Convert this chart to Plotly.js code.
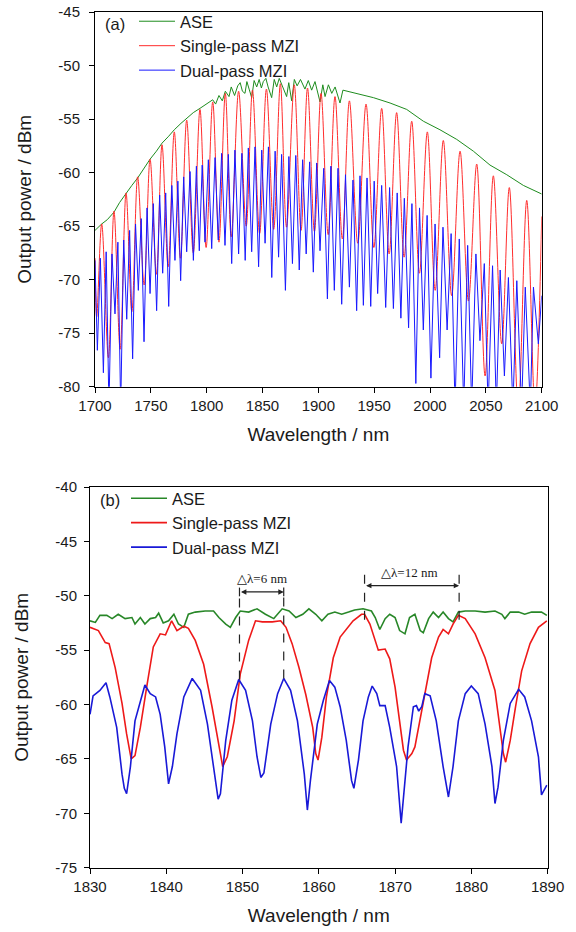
<!DOCTYPE html>
<html>
<head>
<meta charset="utf-8">
<script src="https://cdn.plot.ly/plotly-3.0.1.min.js"></script>
<style>html,body{margin:0;padding:0;background:#fff;}#chart{width:576px;height:932px;}</style>
</head>
<body>
<div id="chart"></div>
<script>
// ---------- Panel (a) data ----------
const aAseX = [1700,1706,1711,1717,1722,1727.8,1733,1738.2,1744,1749.3,1755,1760,1766,1771,1777,1782.1,1788,1794,1800,1805.4,1808,1811,1814,1816.7,1820,1822,1825,1827.8,
  1830,1832,1834.3,1836,1838,1840.3,1842.5,1844.8,1847,1849,1850.7,1853,1855,1858.2,1860.5,1862.7,1865,1868,1871.6,1873.5,1876.1,1878.5,1881,1884,1888,1891,1894,1897,1901.5,1904,1906,1909,1912,1915,1919.4,1922,
  1928,1934.3,1949.3,1964.2,1979.1,1994,2008.9,2023.9,2038.8,2053.7,2068.7,2083.6,2100];
const aAseY = [-65.4,-64.8,-64.4,-63.7,-62.8,-61.9,-61.2,-60.5,-59.6,-58.75,-58.0,-57.25,-56.6,-56.0,-55.4,-54.9,-54.4,-54.0,-53.6,-53.2,-53.6,-52.8,-53.3,-52.4,-52.9,-52.0,-52.8,-51.9,
  -51.6,-52.4,-52.6,-51.5,-52.2,-53.0,-51.4,-52.0,-51.3,-52.1,-51.5,-51.2,-52.0,-53.0,-51.3,-52.0,-51.2,-51.9,-52.9,-51.6,-53.3,-51.3,-51.9,-51.3,-52.2,-51.4,-52.3,-51.5,-53.4,-51.8,-52.9,-51.8,-52.6,-52.0,-53.5,-52.3,
  -52.45,-52.6,-53.0,-53.5,-54.1,-55.2,-56.0,-56.9,-58.0,-59.3,-60.2,-61.2,-62.0];

const aSpX = [1700,1701.5,1706,1712,1717,1722.5,1727.8,1733,1738.2,1744,1749.3,1755,1760,1765.5,1771,1776.5,1782.1,1788,1794,1799.5,1805.4,1811,1816.7,1822,1828.6,
  1835.4,1841,1847.4,1853.5,1860,1866,1871.5,1878.4,1884.5,1890.3,1896.5,1902.4,1908.8,1914.9,1921.5,1927.8,1935.3,1942.7,1949.7,1956.7,1963.4,1970.1,1976.8,1983.6,1990.5,1997.6,
  2004.6,2011.9,2019.4,2026.9,2034.4,2041.8,2049.3,2056.7,2064.2,2071,2079,2086.6,2094,2100];
const aSpY = [-68.0,-73.5,-64.8,-77.3,-63.6,-76.5,-61.9,-73.0,-60.4,-70.5,-58.75,-69.5,-57.4,-68.8,-56.2,-68.0,-55.1,-67.5,-54.1,-67.0,-53.4,-66.5,-52.6,-66.0,-52.4,
  -65.0,-52.3,-65.7,-52.2,-65.3,-51.7,-65.1,-51.8,-65.4,-52.1,-65.5,-52.6,-65.8,-52.9,-66.2,-53.3,-66.6,-53.6,-67.0,-54.0,-67.6,-54.4,-67.9,-55.2,-69.4,-56.2,
  -71.0,-57.0,-71.5,-58.0,-72.0,-59.2,-79.0,-60.3,-76.0,-61.4,-82.0,-62.6,-82.0,-64.1];

const aDpX = [1700,1702.1,1704.8,1707.5,1710,1712.5,1715.2,1717.9,1720.5,1723,1725.7,1728.4,1731,1733.7,1736.3,1738.8,1741.4,1743.9,1746.6,1749.3,1752.2,1755.2,1757.9,1760.6,1763.3,1766,1768.8,1771.6,1774.2,1776.7,1779.4,1782.1,1785.1,1788.1,1790.8,1793.4,1796,1798.5,1801.5,1804.5,1807.5,1810.4,1813.4,1816.4,1819.4,1822.4,1825.3,1828.6,
  1831.5,1834.5,1837.3,1840.3,1843.3,1846.5,1849.3,1852.3,1855.3,1858.3,1861.3,1864.4,1867.1,1870.5,1873.6,1876.8,1879.8,1882.9,1885.9,1889.1,1892.2,1895.5,1898.5,1901.5,1904.8,1908.1,1911.2,1914.3,1917.6,1920.9,1924.3,1927.8,1931,1934.3,1937.3,1940.3,1943.6,1946.9,1950,1953.1,1956.7,1960.3,1963.8,1967.2,
  1970.6,1973.9,1977,1980.8,1983.8,1987.3,1990.6,1994,1997.4,2000.8,2004.5,2008.6,2011.6,2015.3,2018.9,2022.4,2026.2,2030.2,2033.7,2037.3,2041.1,2044.7,2048.6,2052,2056,2059.4,2062.8,2066.6,2070.2,2074.2,2077.7,2082,2085.3,2089.8,2092.6,2097,2100];
const aDpY = [-68.2,-76.6,-68.0,-78.7,-67.4,-82,-67.6,-73.2,-66.5,-82,-66.3,-73.7,-65.4,-77.4,-64.8,-71.0,-64.3,-75.8,-63.3,-71.3,-62.9,-72.9,-62.1,-69.4,-61.9,-72.5,-61.2,-68.2,-60.8,-70.1,-60.4,-67.4,-59.9,-68.2,-59.4,-67.3,-59.3,-66.5,-58.8,-67.1,-58.6,-66.3,-58.2,-66.8,-58.3,-68.5,-57.9,-67.6,
  -58.2,-68.2,-57.7,-67.4,-57.6,-68.8,-57.9,-66.6,-57.6,-69.8,-58.0,-67.9,-58.3,-71.0,-58.5,-68.5,-58.4,-69.1,-58.8,-67.6,-59.0,-69.3,-59.1,-67.3,-59.6,-71.8,-59.4,-71.0,-59.6,-72.3,-60.2,-70.7,-60.7,-72.9,-60.3,-72.4,-60.5,-72.5,-60.8,-71.3,-61.2,-72.6,-61.4,-72.7,
  -61.9,-73.6,-62.4,-74.5,-62.9,-79.7,-63.3,-74.7,-64.0,-79.2,-64.8,-77.3,-65.1,-74.7,-65.7,-82,-66.2,-82,-66.8,-82,-67.6,-75.7,-68.5,-82,-68.7,-82,-69.1,-79.0,-69.8,-82,-70.1,-82,-70.7,-82,-70.7,-76.0,-71.5];

// ---------- Panel (b) data ----------
const bAseX = [1830,1830.7,1831.3,1832.2,1832.9,1833.7,1834.6,1835.5,1835.9,1836.6,1837.2,1837.9,1838.6,1839,1839.6,1840.3,1841,1841.6,1842.3,1842.9,1843.8,1845.1,1846.2,1846.9,1847.8,1848.4,1849.1,1849.7,1850.8,1851.9,1853,1854.1,1855.2,1856.1,1857,1857.9,1858.7,1859.6,
  1860.4,1861.2,1862.1,1863,1863.9,1864.7,1865.8,1866.9,1867.4,1868,1868.7,1869.3,1870,1870.6,1871.3,1871.9,1872.6,1873.3,1873.7,1874.4,1875,1875.7,1876.3,1877,1877.6,1878.3,1879.2,1880.5,1881.8,1883.1,1884,1884.4,1885.1,1886.2,1887,1887.9,1889.2,1889.9];
const bAseY = [-52.3,-52.45,-51.8,-51.8,-52.1,-51.7,-52.1,-52.0,-52.6,-52.0,-52.6,-52.1,-52.0,-51.6,-52.5,-52.3,-51.7,-52.6,-52.9,-51.7,-51.5,-51.4,-51.4,-52.0,-52.6,-52.9,-52.0,-51.4,-51.5,-51.2,-51.7,-52.1,-51.2,-51.4,-52.0,-51.7,-51.2,-51.7,
  -52.3,-51.7,-51.5,-51.7,-51.5,-51.3,-51.2,-51.4,-52.0,-53.1,-52.1,-51.7,-52.0,-53.2,-53.5,-52.0,-51.7,-53.2,-53.4,-52.1,-51.5,-52.0,-51.5,-52.1,-52.4,-51.5,-51.4,-51.4,-51.5,-51.4,-51.7,-52.1,-51.5,-51.5,-51.7,-51.5,-51.5,-51.8];

const bSpX = [1830,1831.1,1832,1832.5,1833.3,1834.2,1834.8,1835.4,1835.9,1836.6,1837.5,1838.3,1839.2,1839.9,1840.7,1841.4,1842.3,1842.9,1843.8,1844.9,1846,1846.7,1847.4,1848,1848.9,1849.7,1850.8,1851.7,1852.6,1853.9,1855,1855.7,1856.5,1857.4,1858.3,1859.2,1859.6,1859.9,
  1860.4,1861,1861.9,1862.8,1863.6,1864.5,1865.6,1866,1866.7,1867.4,1867.8,1868.7,1869.3,1870,1870.6,1871.1,1871.5,1872.2,1872.6,1873,1873.9,1874.8,1875.7,1876.3,1877,1877.6,1878.3,1879.2,1880.5,1881.8,1883.1,1883.8,1884.2,1884.5,1885.1,1885.8,1886.6,1887.7,1888.8,1889.9];
const bSpY = [-52.9,-53.2,-54.3,-54.4,-56.6,-59.9,-62.7,-65.0,-64.7,-62.1,-58.1,-54.7,-53.5,-53.6,-52.3,-53.2,-52.8,-53.0,-54.1,-56.3,-60.2,-63.0,-65.7,-64.8,-61.5,-57.2,-54.1,-52.3,-52.4,-52.4,-52.3,-52.9,-54.4,-56.6,-59.1,-62.1,-64.5,-65.1,
  -63.0,-59.3,-55.7,-53.8,-53.1,-52.3,-51.7,-51.7,-52.6,-54.1,-55.0,-54.9,-55.8,-58.4,-61.8,-64.2,-65.1,-64.5,-63.9,-62.4,-59.0,-55.7,-53.8,-53.1,-53.5,-52.6,-51.8,-52.1,-53.5,-55.7,-58.7,-62.1,-64.5,-65.3,-63.3,-60.2,-56.9,-54.4,-52.9,-52.3];

const bDpX = [1830,1830.4,1831.3,1832.1,1832.6,1833.5,1834.2,1834.5,1834.8,1835.3,1835.9,1836.4,1836.8,1837.2,1837.9,1838.6,1839.2,1839.8,1840.3,1840.8,1841.4,1842.3,1843.4,1844.5,1845.4,1846.2,1846.8,1847.1,1847.8,1848.6,1849.5,1850.4,1851.3,1851.9,1852.4,1852.8,1853.7,1854.6,1855.4,1856.3,1857.2,1858.1,1858.5,1858.9,1859.8,
  1860.6,1861.4,1862.1,1862.8,1863.6,1864.3,1864.6,1865.2,1865.8,1866.5,1867,1867.6,1868,1868.7,1869.3,1870.2,1870.8,1871.1,1871.7,1872.4,1872.8,1873.1,1873.5,1873.9,1874.6,1875.4,1876.3,1877,1877.6,1878.3,1879.2,1880,1880.9,1881.8,1882.7,1883.1,1883.5,1884.2,1885.1,1886.2,1887,1887.9,1888.8,1889.2,1889.9];
const bDpY = [-60.9,-59.2,-58.7,-58.0,-59.3,-62.1,-66.4,-67.7,-68.2,-65.7,-61.5,-60.2,-59.0,-58.2,-59.0,-59.3,-60.9,-63.9,-67.3,-65.7,-62.7,-59.3,-57.6,-58.7,-61.8,-65.7,-68.7,-68.2,-63.3,-59.6,-57.7,-58.7,-61.5,-64.8,-66.7,-66.3,-61.8,-59.0,-57.6,-58.7,-61.5,-66.4,-69.7,-67.0,-61.8,
  -59.6,-57.8,-58.4,-60.2,-63.3,-67.0,-67.7,-65.1,-61.5,-59.3,-58.3,-59.0,-60.1,-60.1,-62.1,-65.7,-70.9,-68.5,-63.9,-60.2,-60.1,-60.6,-60.2,-59.0,-59.2,-61.5,-65.7,-68.5,-65.7,-61.5,-59.0,-58.3,-59.0,-61.8,-65.7,-69.1,-67.6,-63.3,-59.9,-58.6,-59.3,-61.5,-64.8,-68.3,-67.4];

// ---------- ticks ----------
const aTickX = [1700,1750,1800,1850,1900,1950,2000,2050,2100];
const aTickY = [-80,-75,-70,-65,-60,-55,-50,-45];
const bTickX = [1830,1840,1850,1860,1870,1880,1890];
const bTickY = [-75,-70,-65,-60,-55,-50,-45,-40];
const seriesNames = ['ASE','Single-pass MZI','Dual-pass MZI'];

const W = 576, H = 932;
const FONT = 'Arial, "Liberation Sans", Helvetica, sans-serif';
const SERIF = '"Liberation Serif", "Times New Roman", "DejaVu Serif", serif';
const TXT = '#1a1a1a';
const lbl = a => a.map(v => String(v));

const traces = [
  {x:aAseX, y:aAseY, xaxis:'x', yaxis:'y', name:seriesNames[0], legend:'legend', mode:'lines', line:{color:'rgb(30,140,30)', width:1}},
  {x:aSpX, y:aSpY, xaxis:'x', yaxis:'y', name:seriesNames[1], legend:'legend', mode:'lines', line:{color:'rgb(255,45,45)', width:1, shape:'spline', smoothing:1}},
  {x:aDpX, y:aDpY, xaxis:'x', yaxis:'y', name:seriesNames[2], legend:'legend', mode:'lines', line:{color:'rgb(25,25,255)', width:1}},
  {x:bAseX, y:bAseY, xaxis:'x2', yaxis:'y2', name:seriesNames[0], legend:'legend2', mode:'lines', line:{color:'rgb(40,135,40)', width:1.6}},
  {x:bSpX, y:bSpY, xaxis:'x2', yaxis:'y2', name:seriesNames[1], legend:'legend2', mode:'lines', line:{color:'rgb(238,25,25)', width:1.6}},
  {x:bDpX, y:bDpY, xaxis:'x2', yaxis:'y2', name:seriesNames[2], legend:'legend2', mode:'lines', line:{color:'rgb(25,25,215)', width:1.6}}
];

function axisBase(extra){
  return Object.assign({
    showline:true, linecolor:'#000', linewidth:1, mirror:true,
    ticks:'outside', ticklen:5, tickwidth:1, tickcolor:'#000',
    showgrid:false, zeroline:false, tickmode:'array',
    tickfont:{family:FONT, size:15, color:TXT},
    fixedrange:true
  }, extra);
}

const legendCommon = {xanchor:'left', yanchor:'top', bgcolor:'rgba(0,0,0,0)', borderwidth:0,
  font:{family:FONT, size:16.5, color:TXT}, tracegroupgap:0, itemwidth:36};

const layout = {
  width:W, height:H,
  margin:{l:0,r:0,t:0,b:0},
  paper_bgcolor:'#fff', plot_bgcolor:'#fff',
  font:{family:FONT, color:TXT},
  showlegend:true,
  xaxis: axisBase({domain:[95/W, 541.7/W], range:[1700,2100], anchor:'y', tickvals:aTickX, ticktext:lbl(aTickX),
    title:{text:'Wavelength / nm', font:{family:FONT, size:19, color:TXT}, standoff:14}}),
  yaxis: axisBase({domain:[1-386.7/H, 1-12/H], range:[-80,-45], anchor:'x', tickvals:aTickY, ticktext:lbl(aTickY), ticklabelstandoff:6,
    title:{text:'Output power / dBm', font:{family:FONT, size:19, color:TXT}, standoff:21}}),
  xaxis2: axisBase({domain:[90/W, 547.6/W], range:[1830,1890], anchor:'y2', tickvals:bTickX, ticktext:lbl(bTickX),
    title:{text:'Wavelength / nm', font:{family:FONT, size:19, color:TXT}, standoff:14}}),
  yaxis2: axisBase({domain:[1-867.7/H, 1-487/H], range:[-75,-40], anchor:'x2', tickvals:bTickY, ticktext:lbl(bTickY), ticklabelstandoff:4,
    title:{text:'Output power / dBm', font:{family:FONT, size:19, color:TXT}, standoff:21}}),
  legend:Object.assign({x:134/W, y:1-4/H}, legendCommon),
  legend2:Object.assign({x:126/W, y:1-481/H}, legendCommon),
  shapes:[
    {type:'line', xref:'x2', yref:'y2', x0:1849.6, x1:1849.6, y0:-57.7, y1:-50.1, line:{color:'#222', width:1.2, dash:'dash'}},
    {type:'line', xref:'x2', yref:'y2', x0:1855.4, x1:1855.4, y0:-57.6, y1:-50.1, line:{color:'#222', width:1.2, dash:'dash'}},
    {type:'line', xref:'x2', yref:'y2', x0:1849.6, x1:1849.6, y0:-50.05, y1:-49.25, line:{color:'#222', width:1.2}},
    {type:'line', xref:'x2', yref:'y2', x0:1855.4, x1:1855.4, y0:-50.05, y1:-49.25, line:{color:'#222', width:1.2}},
    {type:'line', xref:'x2', yref:'y2', x0:1866.0, x1:1866.0, y0:-52.2, y1:-47.9, line:{color:'#222', width:1.2, dash:'dash'}},
    {type:'line', xref:'x2', yref:'y2', x0:1878.4, x1:1878.4, y0:-52.2, y1:-47.9, line:{color:'#222', width:1.2, dash:'dash'}}
  ],
  annotations:[
    {xref:'paper', yref:'paper', x:115/W, y:1-24/H, xanchor:'center', yanchor:'middle', text:'(a)', showarrow:false, font:{family:FONT, size:16.5, color:TXT}},
    {xref:'paper', yref:'paper', x:110/W, y:1-500/H, xanchor:'center', yanchor:'middle', text:'(b)', showarrow:false, font:{family:FONT, size:16.5, color:TXT}},
    {xref:'x2', yref:'y2', x:1855.4, y:-49.65, axref:'x2', ayref:'y2', ax:1849.6, ay:-49.65, text:'', showarrow:true,
      arrowhead:2, arrowside:'end+start', arrowsize:0.9, arrowwidth:1.2, arrowcolor:'#222', standoff:0, startstandoff:0},
    {xref:'x2', yref:'y2', x:1878.4, y:-49.07, axref:'x2', ayref:'y2', ax:1866.0, ay:-49.07, text:'', showarrow:true,
      arrowhead:2, arrowside:'end+start', arrowsize:0.9, arrowwidth:1.2, arrowcolor:'#222', standoff:0, startstandoff:0},
    {xref:'x2', yref:'y2', x:1852.6, y:-48.4, xanchor:'center', yanchor:'middle', text:'\u25B3\u03BB=6 nm', showarrow:false,
      font:{family:SERIF, size:13, color:TXT}},
    {xref:'x2', yref:'y2', x:1871.9, y:-47.87, xanchor:'center', yanchor:'middle', text:'\u25B3\u03BB=12 nm', showarrow:false,
      font:{family:SERIF, size:13, color:TXT}}
  ]
};

Plotly.newPlot('chart', traces, layout, {displayModeBar:false, staticPlot:true});
</script>
</body>
</html>
